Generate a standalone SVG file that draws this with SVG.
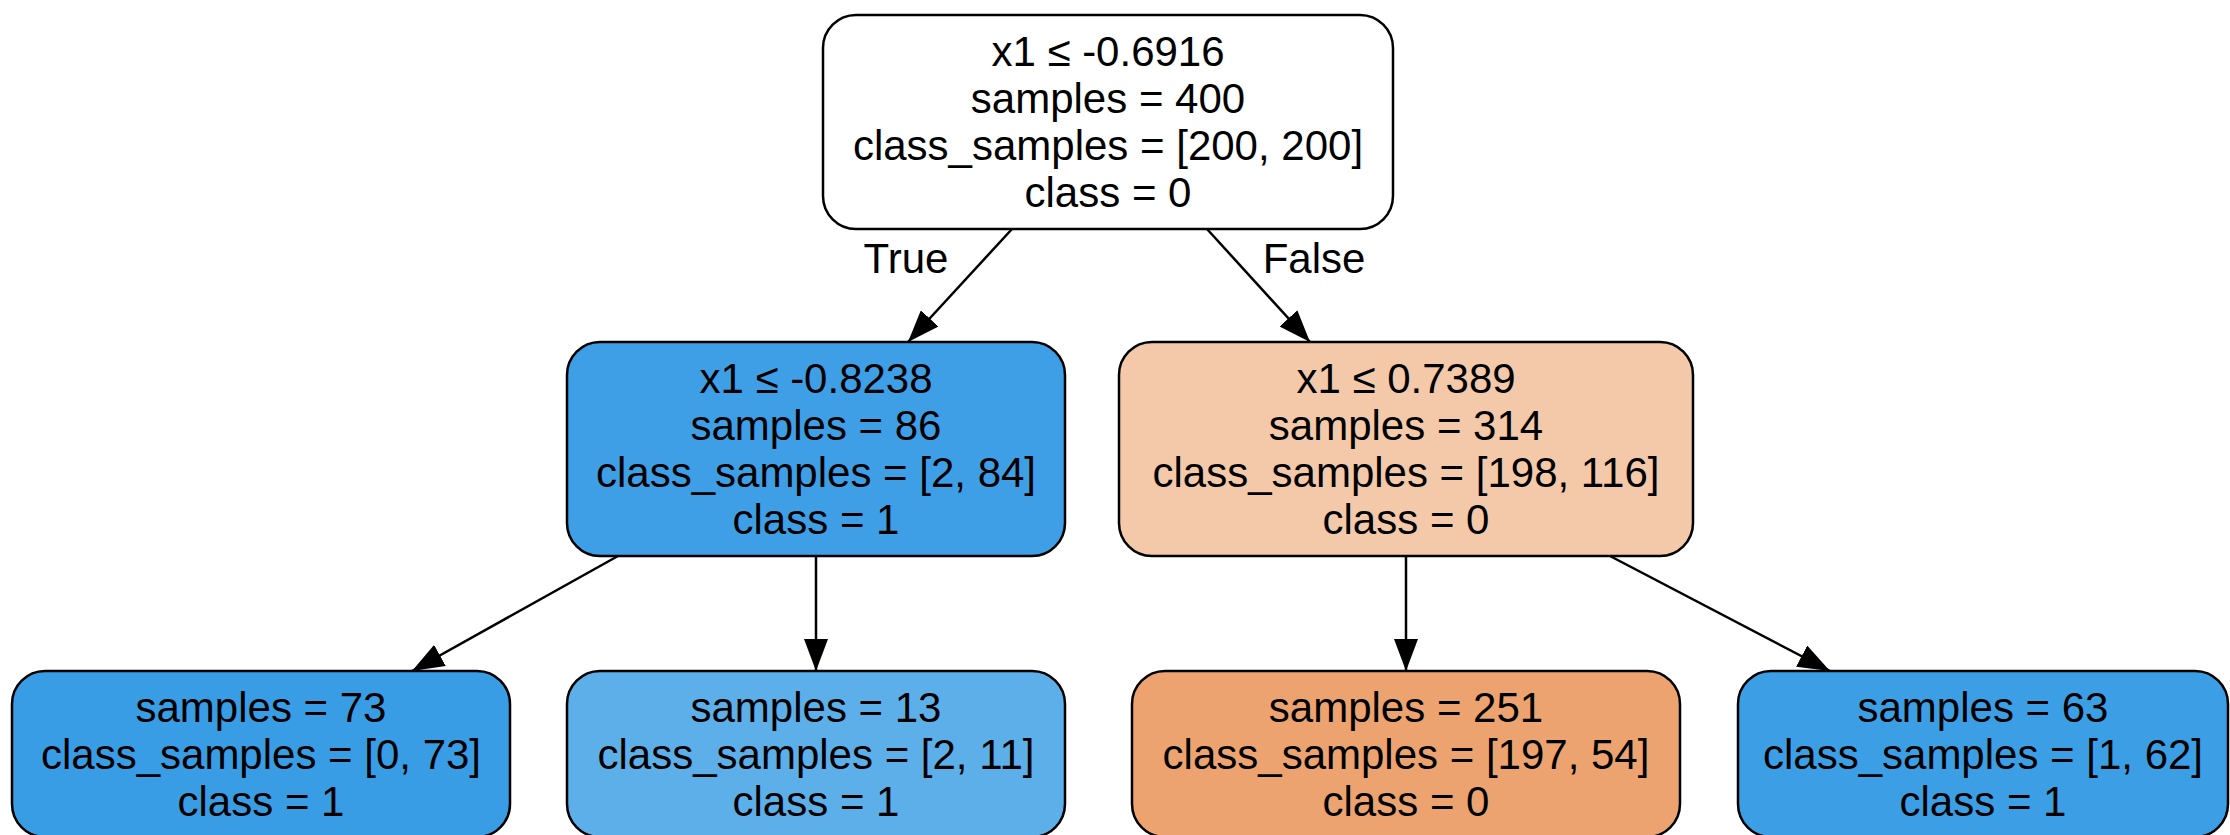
<svg xmlns="http://www.w3.org/2000/svg" width="2230" height="835" viewBox="0 0 2230 835">
<defs>
<style>
.box{stroke:#000;stroke-width:2.5}
text{font-family:"Liberation Sans",Arial,Helvetica,sans-serif;font-size:42px;fill:#000;text-anchor:middle}
.edge{stroke:#000;stroke-width:2.5;fill:none}
</style>
<marker id="arr" viewBox="0 0 32 24" refX="32" refY="12" markerWidth="32" markerHeight="24" markerUnits="userSpaceOnUse" orient="auto">
<path d="M0,0 L32,12 L0,24 z" fill="#000"/>
</marker>
</defs>
<rect width="2230" height="835" fill="#fff"/>
<g id="connectors">
<line class="edge" x1="1012" y1="229" x2="908" y2="342" marker-end="url(#arr)"/>
<line class="edge" x1="1207" y1="229" x2="1310" y2="342" marker-end="url(#arr)"/>
<line class="edge" x1="618" y1="556" x2="412" y2="671" marker-end="url(#arr)"/>
<line class="edge" x1="816" y1="556" x2="816" y2="671" marker-end="url(#arr)"/>
<line class="edge" x1="1406" y1="556" x2="1406" y2="671" marker-end="url(#arr)"/>
<line class="edge" x1="1610" y1="556" x2="1830" y2="671" marker-end="url(#arr)"/>
<text x="906" y="273">True</text>
<text x="1314" y="273">False</text>
</g>
<g id="node0">
<rect class="box" x="823" y="15" width="570" height="214" rx="33" fill="#ffffff"/>
<text x="1108" y="66">x1 ≤ -0.6916</text>
<text x="1108" y="113">samples = 400</text>
<text x="1108" y="160">class_samples = [200, 200]</text>
<text x="1108" y="207">class = 0</text>
</g>
<g id="node1">
<rect class="box" x="567" y="342" width="498" height="214" rx="33" fill="#3e9fe6"/>
<text x="816" y="393">x1 ≤ -0.8238</text>
<text x="816" y="440">samples = 86</text>
<text x="816" y="487">class_samples = [2, 84]</text>
<text x="816" y="534">class = 1</text>
</g>
<g id="node4">
<rect class="box" x="1119" y="342" width="574" height="214" rx="33" fill="#f3c9aa"/>
<text x="1406" y="393">x1 ≤ 0.7389</text>
<text x="1406" y="440">samples = 314</text>
<text x="1406" y="487">class_samples = [198, 116]</text>
<text x="1406" y="534">class = 0</text>
</g>
<g id="node2">
<rect class="box" x="12" y="671" width="498" height="166" rx="33" fill="#399de5"/>
<text x="261" y="722">samples = 73</text>
<text x="261" y="769">class_samples = [0, 73]</text>
<text x="261" y="816">class = 1</text>
</g>
<g id="node3">
<rect class="box" x="567" y="671" width="498" height="166" rx="33" fill="#5dafea"/>
<text x="816" y="722">samples = 13</text>
<text x="816" y="769">class_samples = [2, 11]</text>
<text x="816" y="816">class = 1</text>
</g>
<g id="node5">
<rect class="box" x="1132" y="671" width="548" height="166" rx="33" fill="#eca36f"/>
<text x="1406" y="722">samples = 251</text>
<text x="1406" y="769">class_samples = [197, 54]</text>
<text x="1406" y="816">class = 0</text>
</g>
<g id="node6">
<rect class="box" x="1738" y="671" width="490" height="166" rx="33" fill="#3c9fe5"/>
<text x="1983" y="722">samples = 63</text>
<text x="1983" y="769">class_samples = [1, 62]</text>
<text x="1983" y="816">class = 1</text>
</g>
</svg>
